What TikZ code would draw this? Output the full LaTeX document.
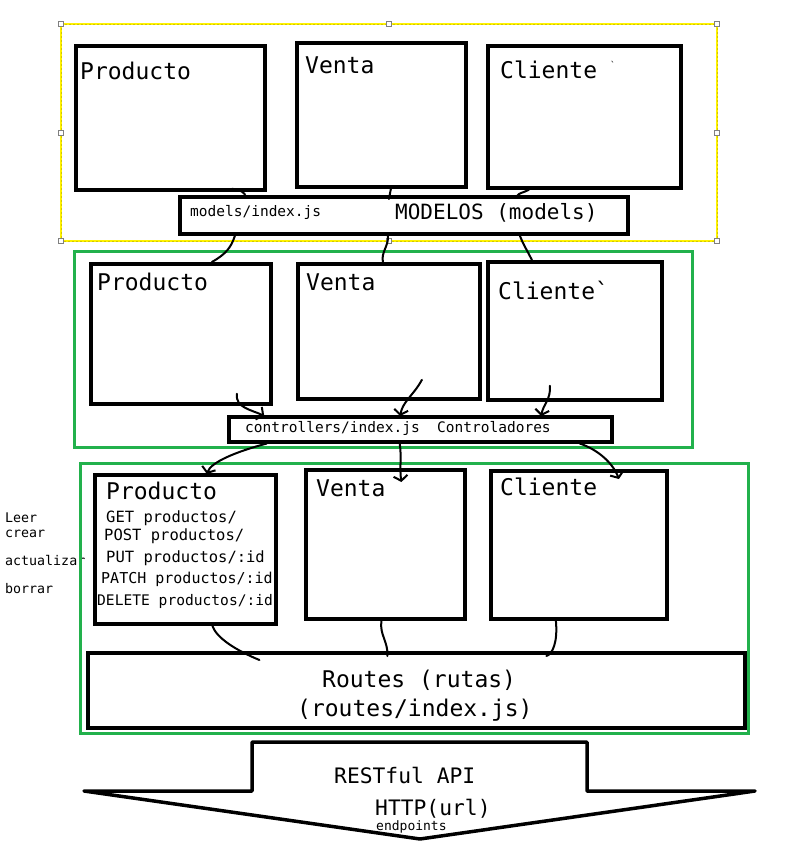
\documentclass[tikz,border=0pt]{standalone}
\usepackage{fontspec}
\newfontfamily\pnt{DejaVu Sans Mono}
\usetikzlibrary{arrows.meta}
\definecolor{pntgreen}{HTML}{22B14C}
\definecolor{pntyellow}{HTML}{FFF200}
\tikzset{
  box/.style={draw, line width=3.8pt, anchor=north west, inner sep=0pt},
  greenframe/.style={draw=pntgreen, line width=3pt},
  lbl/.style={anchor=base west, inner sep=0pt, font=\pnt\fontsize{23}{27}\selectfont},
  smalllbl/.style={anchor=base west, inner sep=0pt, font=\pnt\fontsize{14.5}{17}\selectfont},
  routelbl/.style={anchor=base west, inner sep=0pt, font=\pnt\fontsize{15.5}{18}\selectfont},
  sidelbl/.style={anchor=base west, inner sep=0pt, font=\pnt\fontsize{13.3}{16}\selectfont},
  wire/.style={line width=2pt, line cap=round},
  wirearrow/.style={wire, -{Straight Barb[length=5pt,width=14pt]}},
}
\begin{document}
\begin{tikzpicture}[x=1pt,y=-1pt]
\useasboundingbox[fill=white] (0,0) rectangle (796,852);

% modelos
\draw[pntyellow, line width=2pt] (61,24) rectangle (717,241);
\draw[yellow!60!olive, line width=.8pt, dash pattern=on 2pt off 2pt] (61,24) rectangle (717,241);
\foreach \x/\y in {61/24,389/24,717/24,61/133,717/133,61/241,389/241,717/241}
  \draw[gray, fill=white, line width=.6pt] (\x-2.5,\y-2.5) rectangle (\x+2.5,\y+2.5);

\node[box, minimum width=189, minimum height=144] (mProd) at (74,44) {};
\node[box, minimum width=169, minimum height=144] (mVenta) at (295,41) {};
\node[box, minimum width=193, minimum height=142] (mCli) at (486,44) {};
\node[box, minimum width=448, minimum height=37] (modIdx) at (178,195) {};
\node[lbl] (mProdT) at (80,79) {Producto};
\node[lbl] (mVentaT) at (305,73) {Venta};
\node[lbl] (mCliT) at (500,78) {Cliente};
\node[anchor=base west, inner sep=0pt, font=\pnt\fontsize{9}{10}\selectfont] (mCliTick) at (610,68) {\char96};
\node[smalllbl] (modIdxT) at (190,216) {models/index.js};
\node[anchor=base west, inner sep=0pt, font=\pnt\fontsize{21}{25}\selectfont] (modT) at (395,219) {MODELOS (models)};

\draw[wire] ([shift={(61.5,-3)}]mProd.south) .. controls +(8,1) and +(-1,-5) .. ([shift={(-158,2)}]modIdx.north);
\draw[wire] ([shift={(9.5,0)}]mVenta.south) -- ([shift={(-15,4)}]modIdx.north);
\draw[wire] ([shift={(-55.5,0)}]mCli.south) .. controls +(-6,3) and +(2,-3) .. ([shift={(113,1)}]modIdx.north);

% controladores
\draw[greenframe] (74,251) rectangle (692,447);
\node[box, minimum width=180, minimum height=140] (cProd) at (89,262) {};
\node[box, minimum width=182, minimum height=135] (cVenta) at (296,262) {};
\node[box, minimum width=174, minimum height=138] (cCli) at (486,260) {};
\node[box, line width=3.5pt, minimum width=383, minimum height=25] (ctrlIdx) at (227,415) {};
\node[lbl] (cProdT) at (97,290) {Producto};
\node[lbl] (cVentaT) at (306,290) {Venta};
\node[lbl] (cCliT) at (498,299) {Cliente\char96};
\node[smalllbl] (ctrlT) at (245,432) {controllers/index.js~~Controladores};

\draw[wire] ([shift={(-169,0)}]modIdx.south) .. controls +(-4,12) and +(14,-8) .. ([shift={(31,0)}]cProd.north);
\draw[wire] ([shift={(-16,0)}]modIdx.south) .. controls +(1,10) and +(-2,-10) .. ([shift={(-6,0)}]cVenta.north);
\draw[wire] ([shift={(116,0)}]modIdx.south) .. controls +(4,10) and +(-6,-12) .. ([shift={(-43,0)}]cCli.north);

\draw[wirearrow] ([shift={(56,-12)}]cProd.south) .. controls +(-2,14) and +(-12,-6) .. ([shift={(-156,1)}]ctrlIdx.north);
\draw[wirearrow] ([shift={(33,-21)}]cVenta.south) .. controls +(-8,15) and +(2,-14) .. ([shift={(-20,1)}]ctrlIdx.north);
\draw[wirearrow] ([shift={(-25,-16)}]cCli.south) .. controls +(1,14) and +(2,-12) .. ([shift={(121,1)}]ctrlIdx.north);

% rutas
\node[sidelbl] (leer) at (5,522) {Leer};
\node[sidelbl] (crear) at (5,537) {crear};
\node[sidelbl] (actualizar) at (5,565) {actualizar};
\node[sidelbl] (borrar) at (5,593) {borrar};

\draw[greenframe] (80,463) rectangle (748,733);
\node[box, minimum width=181, minimum height=149] (rProd) at (93,473) {};
\node[box, minimum width=159, minimum height=149] (rVenta) at (304,468) {};
\node[box, minimum width=176, minimum height=148] (rCli) at (489,469) {};
\node[box, minimum width=657, minimum height=75] (routes) at (86,651) {};
\node[lbl] (rProdT) at (106,499) {Producto};
\node[routelbl] (getT) at (106,522) {GET productos/};
\node[routelbl] (postT) at (104,540) {POST productos/};
\node[routelbl] (putT) at (106,562) {PUT productos/:id};
\node[routelbl, font=\pnt\fontsize{15}{18}\selectfont] (patchT) at (101,583) {PATCH productos/:id};
\node[routelbl, font=\pnt\fontsize{14.6}{18}\selectfont] (deleteT) at (97,605) {DELETE productos/:id};
\node[lbl] (rVentaT) at (316,496) {Venta};
\node[lbl] (rCliT) at (500,495) {Cliente};
\node[lbl] (routesT) at (322,687) {Routes (rutas)};
\node[lbl] (routesIdxT) at (297,716) {(routes/index.js)};

\draw[wirearrow] ([shift={(-153.5,0)}]ctrlIdx.south) .. controls +(-30,8) and +(4,-12) .. ([shift={(21.5,1)}]rProd.north);
\draw[wirearrow] ([shift={(-20.5,0)}]ctrlIdx.south) .. controls +(2,14) and +(-2,-14) .. ([shift={(16,14)}]rVenta.north);
\draw[wirearrow] ([shift={(159.5,0)}]ctrlIdx.south) .. controls +(18,6) and +(-6,-16) .. ([shift={(40,10)}]rCli.north);

\draw[wire] ([shift={(27,0)}]rProd.south) .. controls +(4,12) and +(-24,-10) .. ([shift={(-157,9)}]routes.north);
\draw[wire] ([shift={(-4,0)}]rVenta.south) .. controls +(-2,14) and +(1,-14) .. ([shift={(-29,5)}]routes.north);
\draw[wire] ([shift={(-23,0)}]rCli.south) .. controls +(2,22) and +(6,-2) .. ([shift={(130,5)}]routes.north);

% API
\draw[line width=3.5pt, line join=round] (252,742) -- (587,742) -- (587,791) -- (755,791) -- (420,839) -- (84,791) -- (252,791) -- cycle;
\node[anchor=base west, inner sep=0pt, font=\pnt\fontsize{21.3}{25}\selectfont] (apiT) at (334,783) {RESTful API};
\node[anchor=base west, inner sep=0pt, font=\pnt\fontsize{21.3}{25}\selectfont] (httpT) at (375,815) {HTTP(url)};
\node[anchor=base west, inner sep=0pt, font=\pnt\fontsize{13}{15}\selectfont] (endT) at (376,830) {endpoints};
\end{tikzpicture}
\end{document}
